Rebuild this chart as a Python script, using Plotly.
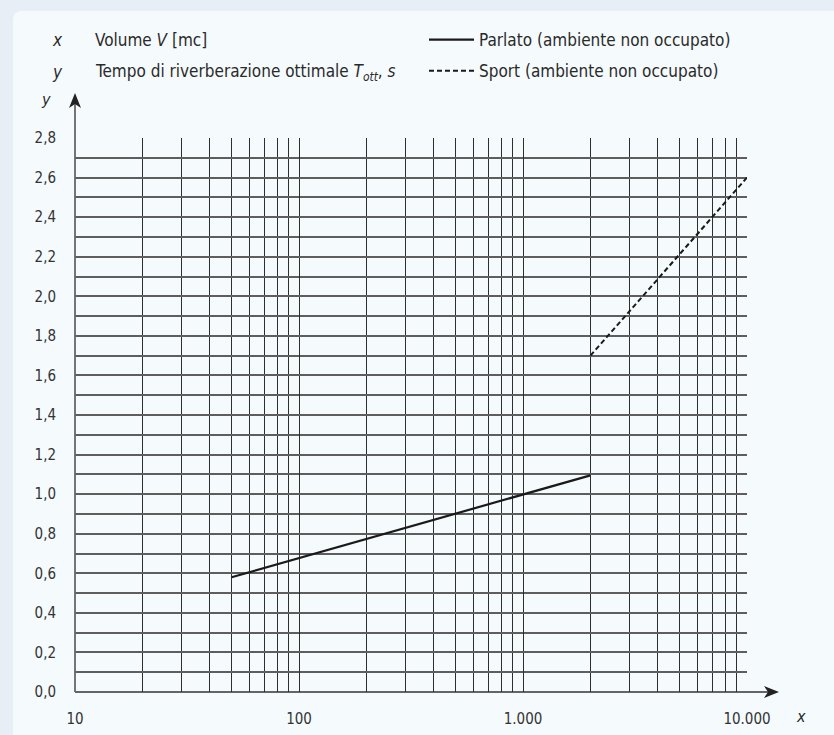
import plotly.graph_objects as go

# ---- data ----
parlato_x = [50, 2000]
parlato_y = [0.58, 1.095]
sport_x = [2000, 10000]
sport_y = [1.70, 2.60]

x_major = [10, 100, 1000, 10000]
x_major_text = ["10", "100", "1.000", "10.000"]
x_minor = [m * d for d in (10, 100, 1000) for m in range(2, 10)]
y_major = [0.0, 0.2, 0.4, 0.6, 0.8, 1.0, 1.2, 1.4, 1.6, 1.8, 2.0, 2.2, 2.4, 2.6, 2.8]
y_major_text = ["0,0", "0,2", "0,4", "0,6", "0,8", "1,0", "1,2", "1,4", "1,6", "1,8",
                "2,0", "2,2", "2,4", "2,6", "2,8"]
y_minor = [0.1, 0.3, 0.5, 0.7, 0.9, 1.1, 1.3, 1.5, 1.7, 1.9, 2.1, 2.3, 2.5, 2.7]

FONT = "Liberation Sans Narrow, DejaVu Sans Condensed, Roboto, sans-serif"
INK = "#2a2a2a"

# plot area geometry (pixels)
W, H = 834, 735
L, R, T, B = 75, 87, 138, 43
PW = W - L - R
PH = H - T - B

def px_x(p):
    return (p - L) / PW

def px_y(q):
    return (H - B - q) / PH

fig = go.Figure()
fig.add_trace(go.Scatter(x=parlato_x, y=parlato_y, mode="lines",
                         name="Parlato (ambiente non occupato)",
                         line=dict(color="#1a1a1a", width=2.2),
                         legendgroup="a"))
fig.add_trace(go.Scatter(x=sport_x, y=sport_y, mode="lines",
                         name="Sport (ambiente non occupato)",
                         line=dict(color="#1a1a1a", width=2, dash="5px,3px"),
                         legendgroup="b"))

# card background
x0, x1 = px_x(13), px_x(W + 5)
y0, y1 = px_y(H + 5), px_y(11)
dx, dy = 9 / PW, 9 / PH
fig.add_shape(type="path", xref="paper", yref="paper", layer="below",
              path=f"M {x0},{y0} L {x0},{y1-dy} Q {x0},{y1} {x0+dx},{y1} L {x1},{y1} L {x1},{y0} Z",
              fillcolor="#f5fafd", line=dict(width=0))
# axis lines extended beyond the grid
fig.add_shape(type="line", xref="paper", yref="paper", x0=0, y0=0, x1=px_x(770), y1=0,
              line=dict(color="#333", width=1.5))
fig.add_shape(type="line", xref="paper", yref="paper", x0=0, y0=0, x1=0, y1=px_y(104),
              line=dict(color="#666", width=1.8))
# arrow heads (filled, notched)
ax_tip, ay_tip = 779, 692
fig.add_shape(type="path", xref="paper", yref="paper",
              path=(f"M {px_x(ax_tip)},{px_y(ay_tip)} L {px_x(ax_tip-15)},{px_y(ay_tip-6)} "
                    f"L {px_x(ax_tip-11)},{px_y(ay_tip)} L {px_x(ax_tip-15)},{px_y(ay_tip+6)} Z"),
              fillcolor="#222", line=dict(width=0))
bx_tip, by_tip = 75, 93
fig.add_shape(type="path", xref="paper", yref="paper",
              path=(f"M {px_x(bx_tip)},{px_y(by_tip)} L {px_x(bx_tip-6)},{px_y(by_tip+15)} "
                    f"L {px_x(bx_tip)},{px_y(by_tip+11)} L {px_x(bx_tip+6)},{px_y(by_tip+15)} Z"),
              fillcolor="#222", line=dict(width=0))

annotations = []
# axis letters
annotations.append(dict(xref="paper", yref="paper", x=px_x(801), y=px_y(716), text="<i>x</i>",
                        xanchor="center", yanchor="middle",
                        showarrow=False, font=dict(family=FONT, size=16, color=INK)))
annotations.append(dict(xref="paper", yref="paper", x=px_x(46), y=px_y(100), text="<i>y</i>",
                        xanchor="center", yanchor="middle",
                        showarrow=False, font=dict(family=FONT, size=16, color=INK)))
# header definitions
annotations.append(dict(xref="paper", yref="paper", x=px_x(57), y=px_y(40), text="<i>x</i>",
                        xanchor="center", yanchor="middle",
                        showarrow=False, font=dict(family=FONT, size=17, color=INK)))
annotations.append(dict(xref="paper", yref="paper", x=px_x(57), y=px_y(72), text="<i>y</i>",
                        xanchor="center", yanchor="middle",
                        showarrow=False, font=dict(family=FONT, size=17, color=INK)))
annotations.append(dict(xref="paper", yref="paper", x=px_x(93), y=px_y(40), xanchor="left",
                        yanchor="middle", text="Volume <i>V</i> [mc]",
                        showarrow=False, font=dict(family=FONT, size=17, color=INK)))
annotations.append(dict(xref="paper", yref="paper", x=px_x(93), y=px_y(72), xanchor="left",
                        yanchor="middle",
                        text="Tempo di riverberazione ottimale <i>T</i><sub><i>ott</i></sub>, <i>s</i>",
                        showarrow=False, font=dict(family=FONT, size=17, color=INK)))

fig.update_layout(
    width=W, height=H,
    margin=dict(l=L, r=R, t=T, b=B, pad=0, autoexpand=False),
    paper_bgcolor="#e7eef5",
    plot_bgcolor="rgba(0,0,0,0)",
    font=dict(family=FONT, size=15, color=INK),
    showlegend=True,
    legend=dict(xref="paper", yref="paper", x=px_x(424), y=px_y(22), xanchor="left", yanchor="top",
                bgcolor="rgba(0,0,0,0)", font=dict(family=FONT, size=17, color=INK),
                tracegroupgap=6, itemwidth=45),
    annotations=annotations,
    xaxis=dict(type="log", range=[1, 4], tickmode="array", tickvals=x_major,
               ticktext=x_major_text, showgrid=True, gridcolor="#2e2e2e", gridwidth=1.2,
               zeroline=False, showline=False, ticks="outside", ticklen=13,
               tickcolor="rgba(0,0,0,0)",
               tickfont=dict(family=FONT, size=15, color="#333"),
               minor=dict(tickmode="array", tickvals=x_minor, showgrid=True,
                          gridcolor="#2e2e2e", gridwidth=1.2, ticks="")),
    yaxis=dict(range=[0, 2.8], tickmode="array", tickvals=y_major, ticktext=y_major_text,
               showgrid=True, gridcolor="#5e5e5e", gridwidth=1.6, zeroline=False,
               showline=False, ticks="outside", ticklen=15, tickcolor="rgba(0,0,0,0)",
               tickfont=dict(family=FONT, size=15, color="#333"),
               minor=dict(tickmode="array", tickvals=y_minor, showgrid=True,
                          gridcolor="#5e5e5e", gridwidth=1.6, ticks="")),
)

fig.write_html("out.html", config={"displayModeBar": False},
               post_script="document.body.style.margin='0';")
